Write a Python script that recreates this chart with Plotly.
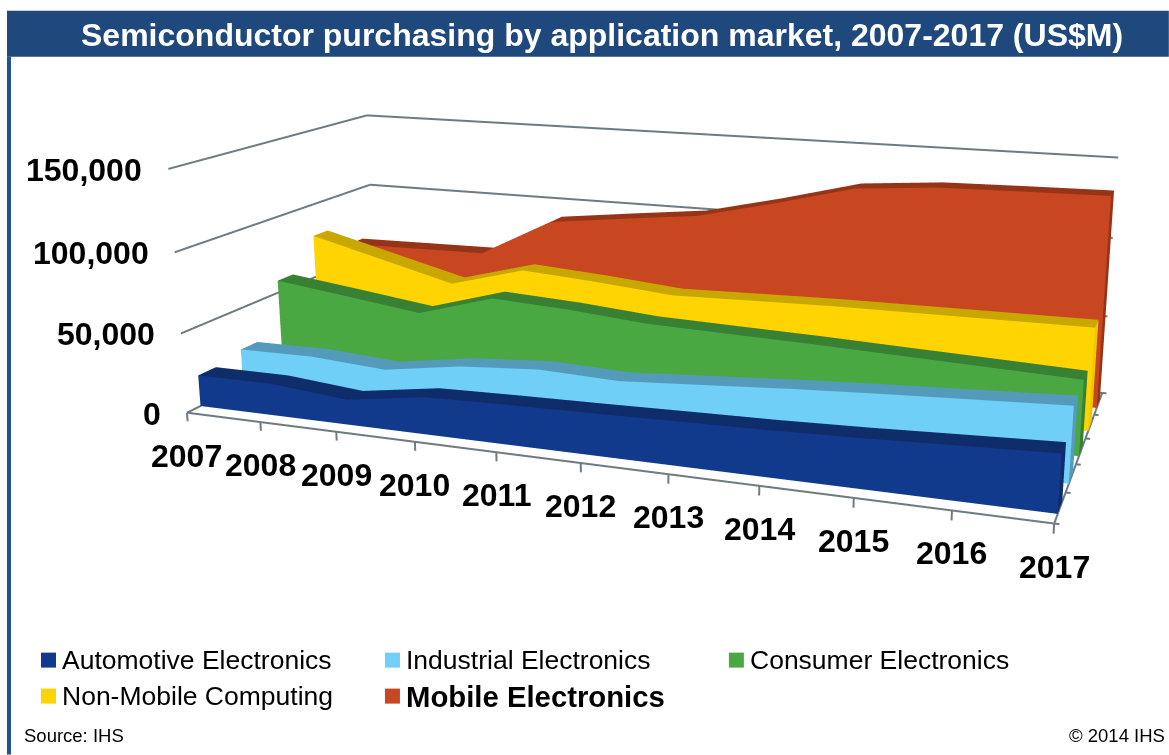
import math
import plotly.graph_objects as go

# Chart data (US$M)
years = list(range(2007, 2018))
value_ticks = [0, 50000, 100000, 150000]
automotive = [19700, 19800, 15500, 22800, 24000, 24900, 26000, 27000, 28600, 30700, 32800]
industrial = [23600, 24100, 20900, 28400, 31800, 30100, 33300, 36600, 39300, 41700, 44100]
consumer = [58000, 51900, 45500, 59700, 57100, 53000, 51600, 50300, 48500, 46800, 45000]
computing = [78600, 66300, 54000, 67300, 63900, 59600, 60800, 61900, 62300, 62700, 63100]
mobile = [63300, 64000, 64700, 90300, 96200, 101800, 113500, 126500, 130500, 131400, 132100]

series = [automotive, industrial, consumer, computing, mobile]
names = ["Automotive Electronics", "Industrial Electronics", "Consumer Electronics",
         "Non-Mobile Computing", "Mobile Electronics"]
front_colors = ["#123A8C", "#6FCFF6", "#4AA842", "#FFD400", "#C84620"]
top_colors = ["#0F2D6B", "#549BBB", "#388033", "#C8A800", "#963418"]
side_colors = ["#0F2D6B", "#549BBB", "#388033", "#F0C800", "#963418"]

AXIS_COLOR = "#6E7B82"
HEADER_COLOR = "#1F497D"
BORDER_COLOR = "#255489"
FONT = "Liberation Sans"

# Camera and box proportions of the 3D view
EYE = (2.3062, -6.1582, 1.6485)
CENTER = (0.0746, 0.0, -0.0558)
UP = (0.0028, 0.0, 1.0)
BOX_X, BOX_Y, BOX_Z = 3.4582, 1.5321, 1.0
FOCAL, AXIS_CX, AXIS_CY = 1673.5115, 670.0937, 300.2828

# The scene is larger than the window so that its fixed 45 degree lens gives a
# long focal length; the page is shifted up and clipped to the window.
PAGE_W = 2 * AXIS_CX
PAGE_H = 2 * FOCAL * math.tan(math.pi / 8)
PAGE_SHIFT = PAGE_H / 2 - AXIS_CY

N = len(years) - 1
DEPTH = len(series)
Z_MAX = value_ticks[-1]
X_TICK = 0.05
Z_TICK = -5500

# The ranges run slightly past the box so that ticks and border lines are not
# clipped; the aspect ratio and camera are corrected for the extra room.
x_range = [-0.05, N + 0.1]
y_range = [-0.05, DEPTH + 0.05]
z_range = [-6000, Z_MAX + 1500]


def widen(rng, nominal, box):
    """Aspect ratio and camera offset for a range wider than its nominal span."""
    span = rng[1] - rng[0]
    return box * span / nominal, (nominal / 2 - (rng[0] + rng[1]) / 2) / nominal * box


aspect_x, shift_x = widen(x_range, N, BOX_X)
aspect_y, shift_y = widen(y_range, DEPTH, BOX_Y)
aspect_z, shift_z = widen(z_range, Z_MAX, BOX_Z)

fig = go.Figure()


def segments(pairs, width):
    """One line trace from a list of 3D segments."""
    xs, ys, zs = [], [], []
    for (a, b) in pairs:
        for c, v in zip((xs, ys, zs), a):
            c.append(v)
        for c, v in zip((xs, ys, zs), b):
            c.append(v)
        for c in (xs, ys, zs):
            c.append(None)
    fig.add_trace(go.Scatter3d(x=xs, y=ys, z=zs, mode="lines", hoverinfo="skip",
                               line=dict(color=AXIS_COLOR, width=width)))


# Value gridlines on the left and back walls
walls = []
for v in value_ticks:
    walls.append(((0, 0, v), (0, DEPTH, v)))
    walls.append(((0, DEPTH, v), (N, DEPTH, v)))
segments(walls, 4)

# Floor edges with their tick marks
floor = [((0, 0, 0), (N, 0, 0)), ((N, 0, 0), (N, DEPTH, 0))]
floor += [((k, 0, 0), (k, 0, Z_TICK)) for k in range(N + 1)]
floor += [((N, d, 0), (N + X_TICK, d, 0)) for d in range(DEPTH + 1)]
segments(floor, 4)

# One ribbon per series: front face, sloped top and two end caps
for i, values in enumerate(series):
    y0, y1 = i + 0.3, i + 0.7
    xs, ys, zs = [], [], []
    for k, v in enumerate(values):
        for yy, zz in ((y0, 0), (y0, v), (y1, 0), (y1, v)):
            xs.append(k)
            ys.append(yy)
            zs.append(zz)
    ti, tj, tk, colors = [], [], [], []

    def quad(a, b, c, d, col):
        ti.extend([a, a])
        tj.extend([b, c])
        tk.extend([c, d])
        colors.extend([col, col])

    for k in range(N):
        a, b = 4 * k, 4 * (k + 1)
        quad(a, a + 1, b + 1, b, front_colors[i])
        quad(a + 1, a + 3, b + 3, b + 1, top_colors[i])
    quad(0, 1, 3, 2, side_colors[i])
    a = 4 * N
    quad(a, a + 1, a + 3, a + 2, side_colors[i])
    fig.add_trace(go.Mesh3d(x=xs, y=ys, z=zs, i=ti, j=tj, k=tk, facecolor=colors,
                            flatshading=True, hoverinfo="skip", name=names[i],
                            lighting=dict(ambient=1, diffuse=0, specular=0, roughness=1, fresnel=0)))

# Axis labels stay attached to the scene coordinates
label_font = dict(family=FONT, size=32, color="black")
labels = []
for k, y in enumerate(years):
    labels.append(dict(x=k, y=0, z=0, text="<b>%d</b>" % y, showarrow=False, yshift=-43,
                       xanchor="center", yanchor="middle", font=label_font))
for v in value_ticks:
    labels.append(dict(x=0, y=0, z=v, text="<b>%s</b>" % format(v, ","), showarrow=False,
                       xshift=-24, yshift=-1, xanchor="right", yanchor="middle", font=label_font))

bare_axis = dict(title="", showgrid=False, zeroline=False, showline=False, ticks="",
                 showticklabels=False, showbackground=False, showspikes=False)
fig.update_layout(
    width=PAGE_W, height=PAGE_H, margin=dict(l=0, r=0, t=0, b=0),
    paper_bgcolor="white", showlegend=False,
    scene=dict(
        domain=dict(x=[0, 1], y=[0, 1]), annotations=labels,
        aspectmode="manual", aspectratio=dict(x=aspect_x, y=aspect_y, z=aspect_z),
        camera=dict(
            eye=dict(x=EYE[0] + shift_x, y=EYE[1] + shift_y, z=EYE[2] + shift_z),
            center=dict(x=CENTER[0] + shift_x, y=CENTER[1] + shift_y, z=CENTER[2] + shift_z),
            up=dict(x=UP[0], y=UP[1], z=UP[2]),
            projection=dict(type="perspective")),
        xaxis=dict(range=x_range, **bare_axis),
        yaxis=dict(range=y_range, **bare_axis),
        zaxis=dict(range=z_range, **bare_axis),
    ))


def page_x(v):
    return v / PAGE_W


def page_y(v):
    return 1 - (v + PAGE_SHIFT) / PAGE_H


def rect(x0, y0, x1, y1, color):
    fig.add_shape(type="rect", xref="paper", yref="paper", layer="above", line_width=0,
                  x0=page_x(x0), x1=page_x(x1), y0=page_y(y1), y1=page_y(y0), fillcolor=color)


def text(x, y, s, size, color="black", anchor="left", bold=False):
    fig.add_annotation(xref="paper", yref="paper", x=page_x(x), y=page_y(y), xanchor=anchor,
                       yanchor="middle", showarrow=False, text="<b>%s</b>" % s if bold else s,
                       font=dict(family=FONT, size=size, color=color))


# Title band and left rule
rect(7, 11, 1169, 57, HEADER_COLOR)
rect(7, 57, 11, 755, BORDER_COLOR)
text(602, 35, "Semiconductor purchasing by application market, 2007-2017 (US$M)", 32, "white", "center", True)

# Legend
slots = [(41, 653), (385, 653), (729, 653), (41, 689), (385, 689)]
for i, (sx, sy) in enumerate(slots):
    rect(sx, sy, sx + 15, sy + 15, front_colors[i])
    text(sx + 19, sy + 7.5, names[i], 29.3 if i == 4 else 26.5, bold=i == 4)

# Footer
text(22, 736, "Source: IHS", 18.5)
text(1167, 736, "© 2014 IHS", 18.5, anchor="right")

fig.write_html(
    "out.html", config=dict(displayModeBar=False),
    post_script=(
        "document.documentElement.style.overflow='hidden';"
        "document.body.style.overflow='hidden';"
        "document.querySelector('.plotly-graph-div').style.marginTop='-%.2fpx';" % PAGE_SHIFT
    ))
